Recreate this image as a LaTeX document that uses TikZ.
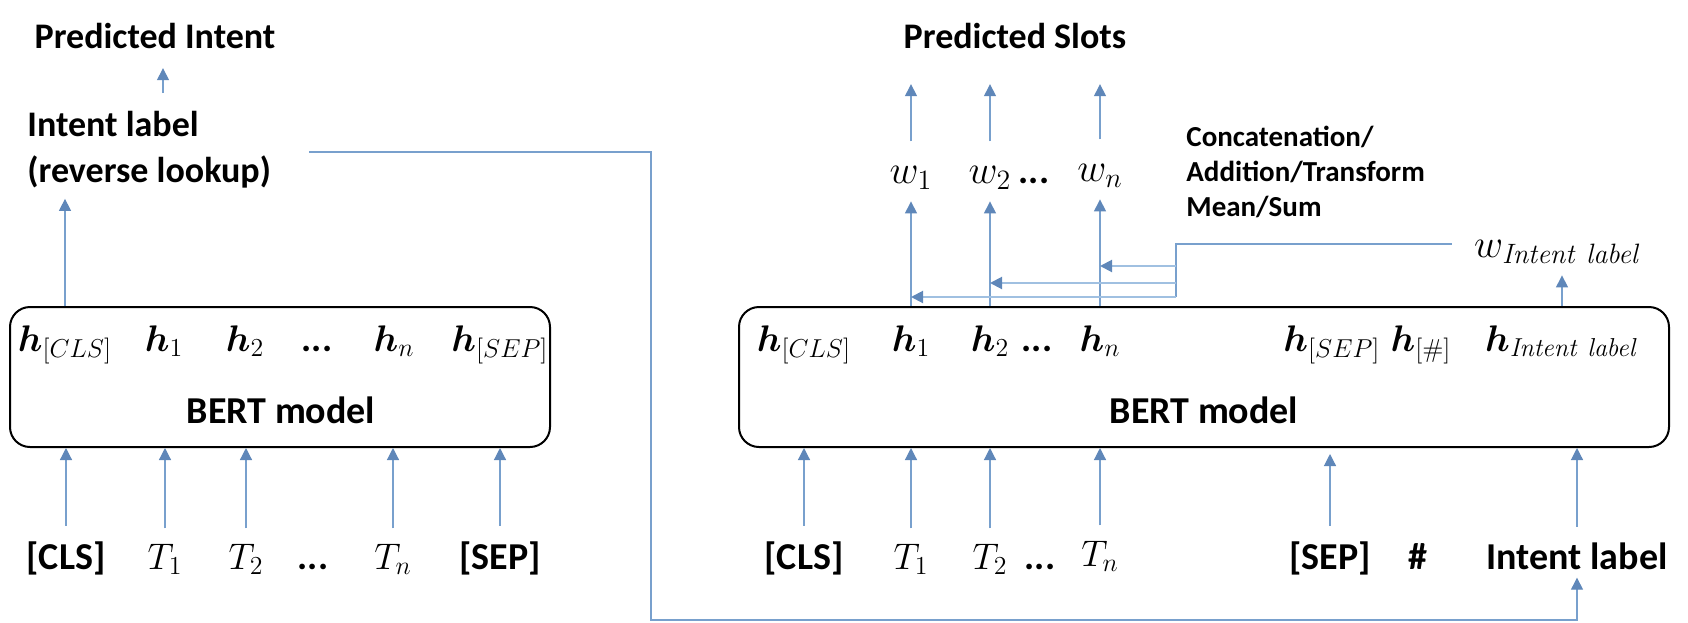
\RequirePackage{fix-cm}
\documentclass[tikz,border=0pt]{standalone}
\usepackage{amsmath,bm}
\usepackage[no-math]{fontspec}
\setmainfont{Carlito}
\usetikzlibrary{arrows.meta}
\definecolor{lineblue}{RGB}{120,160,205}
\definecolor{tipblue}{RGB}{95,135,185}
\definecolor{branchblue}{RGB}{160,192,225}
\begin{document}
\begin{tikzpicture}[x=0.5pt,y=-0.5pt,
  lbl/.style={font=\bfseries\fontsize{18}{23}\selectfont, inner sep=0pt},
  small/.style={font=\bfseries\fontsize{14.5}{17.5}\selectfont, inner sep=0pt, align=left, anchor=west},
  tok/.style={font=\bfseries\fontsize{19}{22}\selectfont, inner sep=0pt, anchor=base},
  mth/.style={font=\fontsize{18.5}{22}\selectfont, inner sep=0pt, anchor=base},
  mthw/.style={font=\fontsize{20}{24}\selectfont, inner sep=0pt, anchor=base},
  bert/.style={draw, line width=1pt, rounded corners=10pt, inner sep=0pt},
  arr/.style={draw=lineblue, line width=0.6pt, -{Triangle[length=6pt,width=6pt,color=tipblue]}},
  barr/.style={draw=branchblue, line width=1pt, -{Triangle[length=6pt,width=6pt,color=tipblue]}},
  ln/.style={draw=lineblue, line width=0.8pt},
]
\useasboundingbox (0,0) rectangle (1688,622);

% ---------------- left part ----------------
\node[lbl] (predI) at (155,36) {Predicted Intent};
\node[lbl, align=left, anchor=west] (intentL) at (27,150) {Intent label\\(reverse lookup)};
\node[bert, minimum width=270pt, minimum height=70pt] (boxL) at (280,377) {};

\node[mth] (hLcls) at (65,351) {$\bm{h}_{[CLS]}$};
\node[mth] (hL1) at (164,351) {$\bm{h}_{1}$};
\node[mth] (hL2) at (245,351) {$\bm{h}_{2}$};
\node[tok] (hLd) at (317,351) {...};
\node[mth] (hLn) at (394,351) {$\bm{h}_{n}$};
\node[mth] (hLsep) at (500,351) {$\bm{h}_{[SEP]}$};
\node[tok] (bertL) at (281,423) {BERT model};

\node[tok] (inLcls) at (66,569) {[CLS]};
\node[mth] (inL1) at (165,569) {$T_1$};
\node[mth] (inL2) at (246,569) {$T_2$};
\node[tok] (inLd) at (313,569) {...};
\node[mth] (inLn) at (393,569) {$T_n$};
\node[tok] (inLsep) at (500,569) {[SEP]};

\coordinate (xI) at (163,0);
\draw[arr, shorten <=9pt, shorten >=9.5pt] (intentL.north -| xI) -- (predI.south -| xI);
\draw[arr, shorten >=5pt] (hLcls |- boxL.north) -- (hLcls |- intentL.south);

\foreach \n in {inLcls,inL1,inL2,inLn,inLsep}{
  \draw[arr, shorten <=7.5pt] (\n.north) -- (\n.north |- boxL.south);
}

% ---------------- right part ----------------
\node[lbl] (predS) at (1015,36) {Predicted Slots};
\node[mthw] (wR1) at (911,183) {$w_1$};
\node[mthw] (wR2) at (990,183) {$w_2$};
\node[tok] (wRd) at (1034,183) {...};
\node[mthw] (wRn) at (1100,181) {$w_n$};
\node[small] (concat) at (1186,172) {Concatenation/\\Addition/Transform\\Mean/Sum};
\node[mthw] (wInt) at (1558,257) {$w_{\mathit{Intent\ label}}$};

\node[bert, minimum width=465pt, minimum height=70pt] (boxR) at (1204,377) {};
\node[mth] (hRcls) at (804,351) {$\bm{h}_{[CLS]}$};
\node[mth] (hR1) at (911,351) {$\bm{h}_{1}$};
\node[mth] (hR2) at (990,351) {$\bm{h}_{2}$};
\node[tok] (hRd) at (1037,351) {...};
\node[mth] (hRn) at (1100,351) {$\bm{h}_{n}$};
\node[mth] (hRsep) at (1332,351) {$\bm{h}_{[SEP]}$};
\node[mth] (hRh) at (1421,351) {$\bm{h}_{[\#]}$};
\node[mth] (hRint) at (1562,351) {$\bm{h}_{\mathit{Intent\ label}}$};
\node[tok] (bertR) at (1204,423) {BERT model};

\node[tok] (inRcls) at (804,569) {[CLS]};
\node[mth] (inR1) at (911,569) {$T_1$};
\node[mth] (inR2) at (990,569) {$T_2$};
\node[tok] (inRd) at (1040,569) {...};
\node[mth] (inRn) at (1100,566) {$T_n$};
\node[tok] (inRsep) at (1330,569) {[SEP]};
\node[tok] (inRh) at (1418,569) {\#};
\node[tok] (inRint) at (1577,569) {Intent label};

% slot arrows
\foreach \n in {wR1,wR2,wRn}{
  \draw[arr, shorten <=12pt, shorten >=17.5pt] (\n.north) -- (\n.north |- predS.south);
  \draw[arr, shorten >=6pt] (\n.south |- boxR.north) -- (\n.south);
}
\draw[arr, shorten >=6pt] (hRint |- boxR.north) -- (hRint |- wInt.south);

% combination lines
\coordinate (jn) at (1176,244);
\coordinate (jb1) at (1176,266);
\coordinate (jb2) at (1176,283);
\coordinate (jb) at (1176,297);
\draw[ln] (jn -| wInt.west) ++(-22,0) -- (jn) -- (jb);
\draw[barr] (jb1) -- (jb1 -| wRn);
\draw[barr] (jb2) -- (jb2 -| wR2);
\draw[barr] (jb) -- (jb -| wR1);

% input arrows right
\foreach \n in {inRcls,inR1,inR2,inRn,inRint}{
  \draw[arr, shorten <=7.5pt] (\n.north) -- (\n.north |- boxR.south);
}
\draw[arr, shorten <=7.5pt, shorten >=3pt] (inRsep.north) -- (inRsep.north |- boxR.south);

% long connector
\coordinate (c1) at (651,152);
\coordinate (c2) at (651,620);
\draw[arr, shorten >=4pt] (c1 -| intentL.east) ++(38,0) -- (c1) -- (c2) -- (c2 -| inRint) -- (inRint.south);
\end{tikzpicture}
\end{document}
